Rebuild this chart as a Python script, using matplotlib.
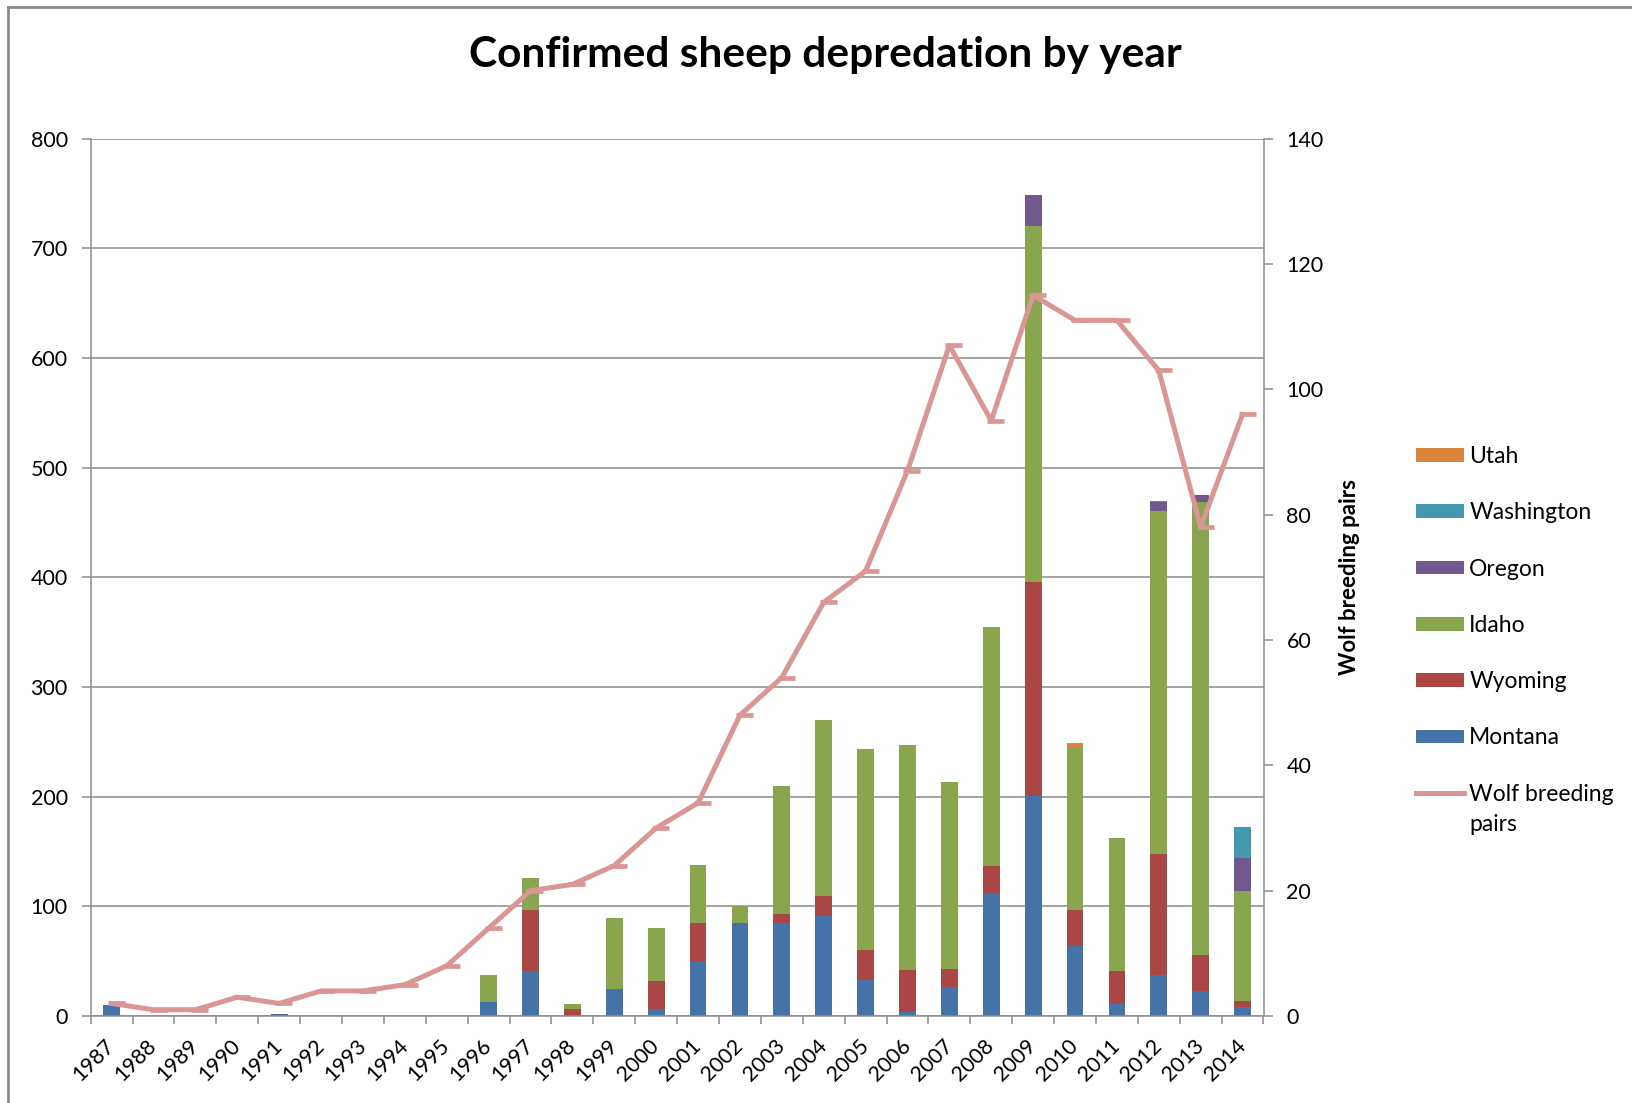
import matplotlib
matplotlib.use('Agg')
import matplotlib.pyplot as plt
from matplotlib.patches import Patch
from matplotlib.lines import Line2D
from matplotlib.path import Path
from matplotlib.transforms import IdentityTransform
import numpy as np

plt.rcParams['font.family'] = ['Lato', 'DejaVu Sans']

years = [str(y) for y in range(1987, 2015)]
montana = [10, 0, 0, 0, 2, 0, 0, 0, 0, 13, 41, 0, 25, 6, 50, 85, 85, 91, 33, 4, 26, 111, 201, 64, 11, 37, 23, 8]
wyoming = [0, 0, 0, 0, 0, 0, 0, 0, 0, 0, 56, 6, 0, 26, 35, 0, 8, 18, 27, 38, 17, 26, 195, 33, 30, 111, 33, 6]
idaho = [0, 0, 0, 0, 0, 0, 0, 0, 0, 24, 29, 5, 64, 48, 53, 15, 117, 161, 183, 205, 170, 218, 324, 148, 121, 312, 413, 100]
oregon = [0, 0, 0, 0, 0, 0, 0, 0, 0, 0, 0, 0, 0, 0, 0, 0, 0, 0, 0, 0, 0, 0, 29, 0, 0, 9, 6, 30]
washington = [0, 0, 0, 0, 0, 0, 0, 0, 0, 0, 0, 0, 0, 0, 0, 0, 0, 0, 0, 0, 0, 0, 0, 0, 0, 1, 0, 28]
utah = [0, 0, 0, 0, 0, 0, 0, 0, 0, 0, 0, 0, 0, 0, 0, 0, 0, 0, 0, 0, 0, 0, 0, 4, 0, 0, 0, 0]
wolf_pairs = [2, 1, 1, 3, 2, 4, 4, 5, 8, 14, 20, 21, 24, 30, 34, 48, 54, 66, 71, 87, 107, 95, 115, 111, 111, 103, 78, 96]

series = [("Montana", montana, "#4572A7"),
          ("Wyoming", wyoming, "#AA4643"),
          ("Idaho", idaho, "#89A54E"),
          ("Oregon", oregon, "#71588F"),
          ("Washington", washington, "#4198AF"),
          ("Utah", utah, "#DB843D")]
line_color = "#D99694"
grid_gray = "#8C8C8C"

W, H = 1632, 1103
fig = plt.figure(figsize=(W / 100, H / 100), dpi=100)
fig.patch.set_facecolor('white')

left, right, top, bottom = 90.7, 1263.5, 138.6, 1016.0
ax = fig.add_axes([left / W, 1 - bottom / H, (right - left) / W, (bottom - top) / H])
x = np.arange(len(years))

base = np.zeros(len(years))
handles = []
for name, vals, col in series:
    v = np.array(vals, dtype=float)
    ax.bar(x, v, width=0.4, bottom=base, color=col, edgecolor='none', zorder=2)
    base += v
    handles.append(Patch(facecolor=col, edgecolor='none', label=name))

ax.set_xlim(-0.5, len(years) - 0.5)
ax.set_ylim(0, 800)
ax.set_yticks(np.arange(0, 801, 100))
ax.yaxis.grid(True, color=grid_gray, linewidth=1.1, zorder=0)
ax.set_axisbelow(True)
ax.set_xticks(x)
ax.set_xticklabels(years, rotation=45, ha='right', va='center', rotation_mode='anchor', fontsize=15.5)
ax.set_xticks(np.arange(-0.5, len(years), 1), minor=True)
ax.tick_params(axis='x', which='major', length=0, pad=19)
ax.tick_params(axis='x', which='minor', length=5.5, width=1.1, color=grid_gray, direction='out')
ax.tick_params(axis='y', length=6.5, width=1.1, color=grid_gray, direction='out', labelsize=15.5, pad=10)
for s in ['top', 'right']:
    ax.spines[s].set_visible(False)
for s in ['left', 'bottom']:
    ax.spines[s].set_color(grid_gray)
    ax.spines[s].set_linewidth(1.1)

# Excel-style dash marker that extends to the right of the data point
dash = Path([(-0.3, 0.0), (1.0, 0.0)], [Path.MOVETO, Path.LINETO])

ax2 = ax.twinx()
ax2.plot(x, wolf_pairs, color=line_color, linewidth=3.6, marker=dash, markersize=19,
         markeredgewidth=3.4, markeredgecolor=line_color, zorder=5, solid_joinstyle='round')
ax2.set_ylim(0, 140)
ax2.set_yticks(np.arange(0, 141, 20))
ax2.tick_params(axis='y', length=6.5, width=1.1, color=grid_gray, direction='out', labelsize=15.5, pad=10)
for s in ['top', 'left', 'bottom']:
    ax2.spines[s].set_visible(False)
ax2.spines['right'].set_color(grid_gray)
ax2.spines['right'].set_linewidth(1.1)
ax2.set_ylabel('Wolf breeding pairs', fontsize=16, fontweight='bold', labelpad=11)

handles = handles[::-1]
handles.append(Line2D([0], [0], color=line_color, linewidth=3.6, label='Wolf breeding'))
leg = fig.legend(handles=handles, loc='upper left', bbox_to_anchor=(1416 / W, 1 - 446 / H),
                 frameon=False, fontsize=16.5, handlelength=2.1, handleheight=0.54,
                 handletextpad=0.22, labelspacing=1.54, borderaxespad=0, borderpad=0)

fig.text(825 / W, 1 - 67 / H, 'Confirmed sheep depredation by year', ha='center', va='baseline',
         fontsize=30.5, fontweight='bold')

# outer chart border (top and left edges visible)
fig.add_artist(Line2D([8 / W, 1.01], [1 - 7 / H, 1 - 7 / H], color='#8A8A8A', linewidth=2, transform=fig.transFigure))
fig.add_artist(Line2D([8 / W, 8 / W], [1 - 7 / H, -0.01], color='#8A8A8A', linewidth=2, transform=fig.transFigure))

# second line of the wrapped legend label
fig.canvas.draw()
bb = leg.get_texts()[-1].get_window_extent()
fig.text(bb.x0, bb.y0 - 30, 'pairs', fontsize=16.5, ha='left', va='bottom', transform=IdentityTransform())

fig.savefig('out.png', dpi=100)
